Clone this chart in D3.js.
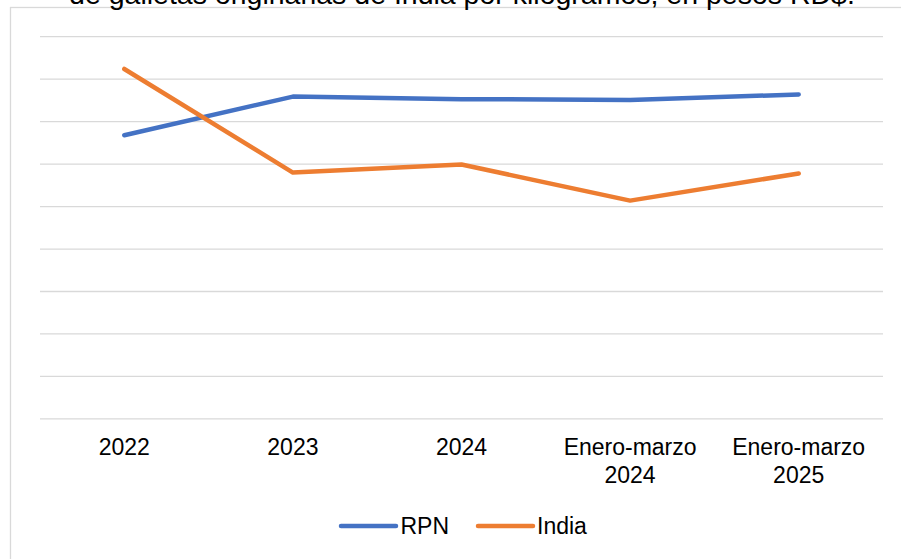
<!DOCTYPE html>
<html>
<head>
<meta charset="utf-8">
<script src="https://cdn.jsdelivr.net/npm/d3@7"></script>
<style>
  html, body { margin: 0; padding: 0; background: #fff; }
  svg { display: block; font-family: "Liberation Sans", Arial, sans-serif; }
</style>
</head>
<body>
<svg id="chart" width="901" height="559"></svg>
<script>
const categories = [["2022"], ["2023"], ["2024"], ["Enero-marzo", "2024"], ["Enero-marzo", "2025"]];
const categoryKeys = ["2022", "2023", "2024", "Enero-marzo 2024", "Enero-marzo 2025"];
const seriesNames = ["RPN", "India"];
const rpnValues = [334, 379.5, 376.5, 375.5, 382];
const indiaValues = [412, 290, 299.5, 257, 289];
const yTicks = [0, 50, 100, 150, 200, 250, 300, 350, 400, 450];
const titleText = "de galletas originarias de India por kilogramos, en pesos RD$.";
const colors = ["#4472C4", "#ED7D31"];

const svg = d3.select("#chart");

// chart area border
svg.append("rect")
  .attr("x", 10.5).attr("y", 7.5)
  .attr("width", 900).attr("height", 560)
  .attr("fill", "#fff").attr("stroke", "#D9D9D9").attr("stroke-width", 1.3);

// title (last line visible)
svg.append("text")
  .attr("x", 462).attr("y", 4)
  .attr("text-anchor", "middle")
  .attr("font-size", "28.5px")
  .attr("fill", "#000")
  .text(titleText);

const x = d3.scaleBand().domain(categoryKeys).range([40, 883]);
const y = d3.scaleLinear().domain([0, 450]).range([418.9, 36.7]);
const cx = k => x(k) + x.bandwidth() / 2;

// gridlines
svg.append("g").selectAll("line").data(yTicks).join("line")
  .attr("x1", 40).attr("x2", 883)
  .attr("y1", d => y(d)).attr("y2", d => y(d))
  .attr("stroke", "#D9D9D9").attr("stroke-width", 1.3);

// x axis labels
const lab = svg.append("g").selectAll("text").data(categoryKeys).join("text")
  .attr("text-anchor", "middle")
  .attr("font-size", "23px")
  .attr("fill", "#000");
lab.each(function(k, i) {
  const t = d3.select(this);
  categories[i].forEach((line, j) => {
    t.append("tspan").attr("x", cx(k)).attr("y", 454.5 + j * 28.5).text(line);
  });
});

// lines
const series = [rpnValues, indiaValues];
const line = d3.line().x((d, i) => cx(categoryKeys[i])).y(d => y(d));
series.forEach((vals, s) => {
  svg.append("path")
    .datum(vals)
    .attr("d", line)
    .attr("fill", "none")
    .attr("stroke", colors[s])
    .attr("stroke-width", 4.5)
    .attr("stroke-linecap", "round")
    .attr("stroke-linejoin", "round");
});

// legend
const legendItems = [
  { name: seriesNames[0], x1: 341, x2: 396, tx: 400.5 },
  { name: seriesNames[1], x1: 478, x2: 533, tx: 537 }
];
legendItems.forEach((it, i) => {
  svg.append("line")
    .attr("x1", it.x1).attr("x2", it.x2)
    .attr("y1", 526).attr("y2", 526)
    .attr("stroke", colors[i]).attr("stroke-width", 4.5)
    .attr("stroke-linecap", "round");
  svg.append("text")
    .attr("x", it.tx).attr("y", 534.3)
    .attr("font-size", "23px").attr("fill", "#000")
    .text(it.name);
});
</script>
</body>
</html>
